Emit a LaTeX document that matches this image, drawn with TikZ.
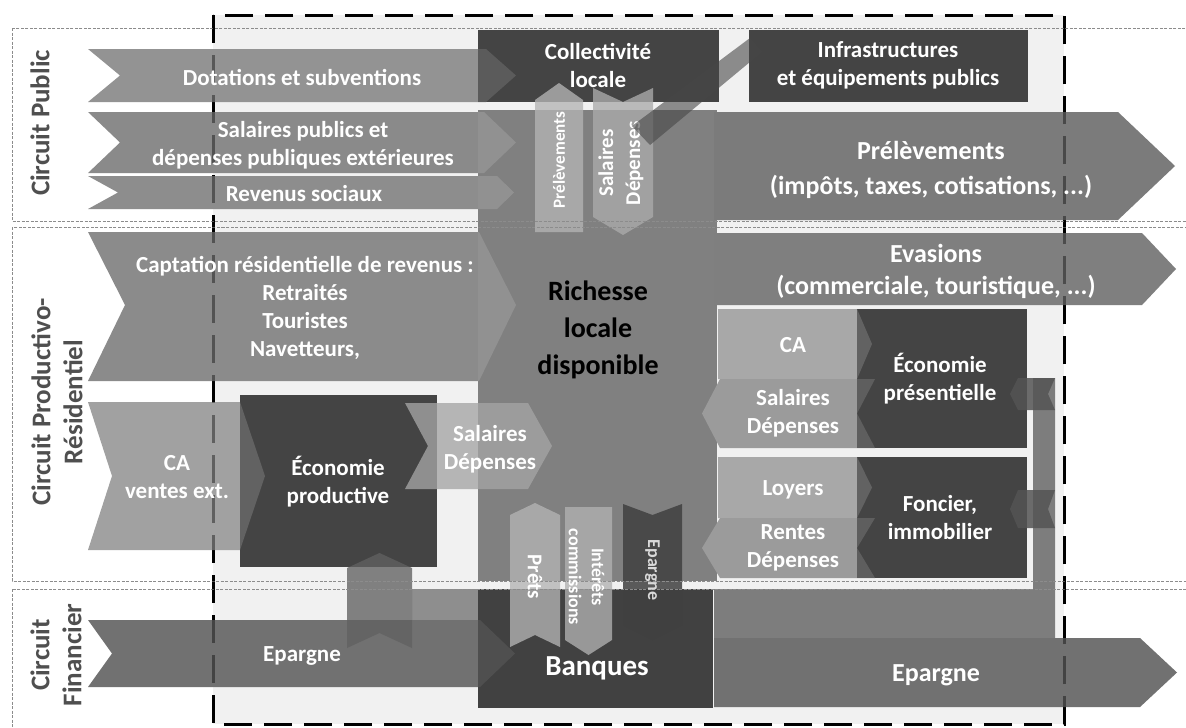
\documentclass[tikz,border=0pt]{standalone}
\usepackage{fontspec}
\setmainfont{Carlito}
\usepackage{xcolor}
\usepackage{tikz}
\definecolor{inner}{HTML}{F1F1F1}
\definecolor{bandc}{HTML}{8C8C8C}
\definecolor{pubA}{HTML}{939393}
\definecolor{pubB}{HTML}{8A8A8A}
\definecolor{pubC}{HTML}{8D8D8D}
\definecolor{capt}{HTML}{8B8B8B}
\definecolor{rich}{HTML}{808080}
\definecolor{outA}{HTML}{7B7B7B}
\definecolor{dark}{HTML}{444444}
\definecolor{light}{HTML}{A8A8A8}
\definecolor{back}{HTML}{9B9B9B}
\definecolor{sav}{HTML}{717171}
\definecolor{vert}{HTML}{B4B4B4}
\definecolor{labc}{HTML}{4F4F4F}
\tikzset{
  ghost/.style={fill opacity=0.3},
  veil/.style={fill opacity=0.78},
  band/.style={draw=bandc, line width=0.8pt, dash pattern=on 3pt off 1.5pt},
  frame/.style={draw=black, line width=3pt, dash pattern=on 28pt off 12pt},
  lab/.style={text=white, font=\bfseries\fontsize{23}{28}\selectfont, align=center},
  labl/.style={text=white, font=\bfseries\fontsize{26}{35}\selectfont, align=center},
  labs/.style={text=white, font=\bfseries\fontsize{18}{23}\selectfont, align=center},
  circ/.style={text=labc, font=\bfseries\fontsize{27}{32}\selectfont, align=center, rotate=90}
}

\begin{document}
\begin{tikzpicture}[x=1pt,y=-1pt]
  \useasboundingbox (0,0) rectangle (1186,728);
  \fill[white] (0,0) rectangle (1186,728);
  \fill[inner] (213,15) rectangle (1064,724);
  \draw[frame] (213,15) rectangle (1064,724);

  % circuit public
  \fill[pubA] (88,49) -- (486,49) -- (516,75.5) -- (486,102) -- (88,102) -- (120,75.5) -- cycle;
  \fill[pubB] (88,112) -- (484,112) -- (516,142.5) -- (484,173) -- (88,173) -- (120,142.5) -- cycle;
  \fill[pubC] (88,176) -- (497,176) -- (514,192.5) -- (497,209) -- (88,209) -- (118,192.5) -- cycle;
  % captation + CA ventes ext.
  \fill[capt] (88,232) -- (479,232) -- (516,305) -- (479,381) -- (88,381) -- (125,305) -- cycle;
  \fill[light!96!black] (88,402) -- (240,402) -- (265,476) -- (240,550) -- (88,550) -- (112,476) -- cycle;
  % epargne (gauche)
  \fill[sav] (88,620) -- (480,620) -- (515,653.5) -- (480,687) -- (88,687) -- (112,653.5) -- cycle;
  \fill[sav!80!white] (412,589) rectangle (478,620);

  % richesse locale disponible
  \fill[rich] (478,110) rectangle (717,581);
  \fill[outA] (714,112) -- (1118,112) -- (1175,166) -- (1118,220) -- (714,220) -- cycle;
  \fill[outA!97!white] (714,233) -- (1142,233) -- (1176,269) -- (1142,305) -- (714,305) -- cycle;

  % circuit presentiel / foncier
  \fill[light] (718,309) -- (857,309) -- (872,344) -- (857,379) -- (718,379) -- cycle;
  \fill[back] (702,413.5) -- (720,379) -- (875,379) -- (857,413.5) -- (875,448) -- (720,448) -- cycle;
  \fill[light] (718,457) -- (857,457) -- (872,487.5) -- (857,518) -- (718,518) -- cycle;
  \fill[back] (702,548) -- (720,518) -- (875,518) -- (857,548) -- (875,578) -- (720,578) -- cycle;

  % epargne (droite)
  \fill[rich!98!black] (714,589) -- (1033,589) -- (1033,378) -- (1055,378) -- (1055,638) -- (714,638) -- cycle;
  \fill[sav] (714,638) -- (1140,638) -- (1177,672.5) -- (1140,707) -- (714,707) -- cycle;

  % blocs sombres
  \fill[dark] (478,30) rectangle (719,102);
  \fill[dark] (749,30) rectangle (1028,102);
  \fill[dark] (240,395) rectangle (437,567);
  \fill[dark] (857,309) rectangle (1027,448);
  \fill[dark] (857,457) rectangle (1027,578);
  \fill[dark!95!black] (478,589) rectangle (713,708);

  % pointes en transparence
  \fill[pubA, ghost] (478,49) -- (486,49) -- (516,75.5) -- (486,102) -- (478,102) -- cycle;
  \fill[pubB!60!white, ghost] (478,112) -- (484,112) -- (516,142.5) -- (484,173) -- (478,173) -- cycle;
  \fill[pubC!60!white, ghost] (478,176) -- (497,176) -- (514,192.5) -- (497,209) -- (478,209) -- cycle;
  \fill[capt!60!white, ghost] (478,232) -- (479,232) -- (516,305) -- (479,381) -- (478,381) -- cycle;
  \fill[light, ghost] (240,402) -- (265,476) -- (240,550) -- cycle;
  \fill[light, ghost] (857,309) -- (872,344) -- (857,379) -- cycle;
  \fill[light, ghost] (857,457) -- (872,487.5) -- (857,518) -- cycle;
  \fill[back, ghost] (857,379) -- (875,379) -- (857,413.5) -- (875,448) -- (857,448) -- cycle;
  \fill[back, ghost] (857,518) -- (875,518) -- (857,548) -- (875,578) -- (857,578) -- cycle;
  \fill[sav, ghost] (478,620) -- (480,620) -- (515,653.5) -- (480,687) -- (478,687) -- cycle;

  % salaires depenses (productive)
  \fill[back!90!white, veil] (405,403) -- (528,403) -- (552,446) -- (528,489) -- (405,489) -- (428,446) -- cycle;
  % epargne vers economie productive
  \fill[black!62, veil] (347,648) -- (347,568) -- (379.5,553) -- (412,568) -- (412,648) -- (379.5,633) -- cycle;
  % retours vers epargne
  \fill[black!67, fill opacity=0.85] (1055,378) -- (1018,378) -- (1010,394) -- (1018,410) -- (1055,410) -- (1048,394) -- cycle;
  \fill[black!67, fill opacity=0.85] (1055,490) -- (1018,490) -- (1010,509) -- (1018,528) -- (1055,528) -- (1048,509) -- cycle;

  % fleches verticales
  \fill[vert, veil] (535,232) -- (535,100) -- (559,83) -- (583,100) -- (583,232) -- cycle;
  \fill[vert!95!black, veil] (593,88) -- (623,102) -- (653,88) -- (653,217) -- (623,235) -- (593,217) -- cycle;
  \fill[vert, veil] (510,647) -- (510,515) -- (535,503) -- (560,515) -- (560,647) -- (535,635) -- cycle;
  \fill[vert!104!white, veil] (565,507) -- (612,507) -- (612,640) -- (588.5,655) -- (565,640) -- cycle;
  \fill[black!75, fill opacity=0.85] (623,504) -- (652.5,515) -- (682,504) -- (682,625) -- (652.5,640) -- (623,625) -- cycle;

  \node[labs, font=\bfseries\fontsize{17}{21}\selectfont, rotate=90] (prelv) at (559,160) {Prélèvements};
  \node[labs, font=\bfseries\fontsize{21}{27}\selectfont, rotate=90] (salv) at (621,163) {Salaires\\Dépenses};
  % vers les infrastructures
  \fill[black!72, fill opacity=0.6] (632,126) -- (750,38) -- (762,52) -- (650,145) -- cycle;

  % bandes des circuits
  \draw[band] (12,28) rectangle (1220,221);
  \draw[band] (12,227) rectangle (1220,581);
  \draw[band] (12,589) rectangle (1220,760);
  \draw[frame, draw opacity=0.4] (213,15) rectangle (1064,724);

  \node[circ] (cpub) at (40,123) {Circuit Public};
  \node[circ] (cres) at (57,402) {Circuit Productivo-\\Résidentiel};
  \node[circ] (cfin) at (56,655) {Circuit\\Financier};

  \node[lab] (dot) at (302,77) {Dotations et subventions};
  \node[lab] (salpub) at (303,145) {Salaires publics et\\dépenses publiques extérieures};
  \node[lab] (revsoc) at (304,194) {Revenus sociaux};
  \node[lab] (coll) at (598,65) {Collectivité\\locale};
  \node[lab] (infra) at (888,65) {Infrastructures\\et équipements publics};
  \node[labl] (prel) at (931,170) {Prélèvements\\(impôts, taxes, cotisations, ...)};
  \node[labl, font=\bfseries\fontsize{26}{32}\selectfont] (evas) at (936,271) {Evasions\\(commerciale, touristique, ...)};
  \node[lab] (captn) at (305,308) {Captation résidentielle de revenus :\\Retraités\\Touristes\\Navetteurs,};
  \node[lab] (caext) at (177,477) {CA\\ventes ext.};
  \node[lab] (ecoprod) at (338,482) {Économie\\productive};
  \node[lab] (salprod) at (490,449) {Salaires\\Dépenses};
  \node[text=black, font=\bfseries\fontsize{28}{37}\selectfont, align=center] (richn) at (598,330) {Richesse\\locale\\disponible};
  \node[lab] (ca) at (793,345) {CA};
  \node[lab] (salpres) at (793,413) {Salaires\\Dépenses};
  \node[lab] (ecopres) at (940,379) {Économie\\présentielle};
  \node[lab] (loy) at (793,490) {Loyers};
  \node[lab] (rent) at (793,548) {Rentes\\Dépenses};
  \node[lab] (fonc) at (940,518) {Foncier,\\immobilier};
  \node[labs, font=\bfseries\fontsize{21}{25}\selectfont, rotate=-90] (prets) at (535,577) {Prêts};
  \node[labs, rotate=-90] (inter) at (586.5,577) {Intérêts\\commissions};
  \node[labs, text=white!85!black, rotate=-90] (eparv) at (652.5,570) {Epargne};
  \node[labl, font=\bfseries\fontsize{29}{35}\selectfont] (banq) at (597,668) {Banques};
  \node[lab] (eparl) at (302,656) {Epargne};
  \node[labl] (eparr) at (936,675) {Epargne};
\end{tikzpicture}
\end{document}
